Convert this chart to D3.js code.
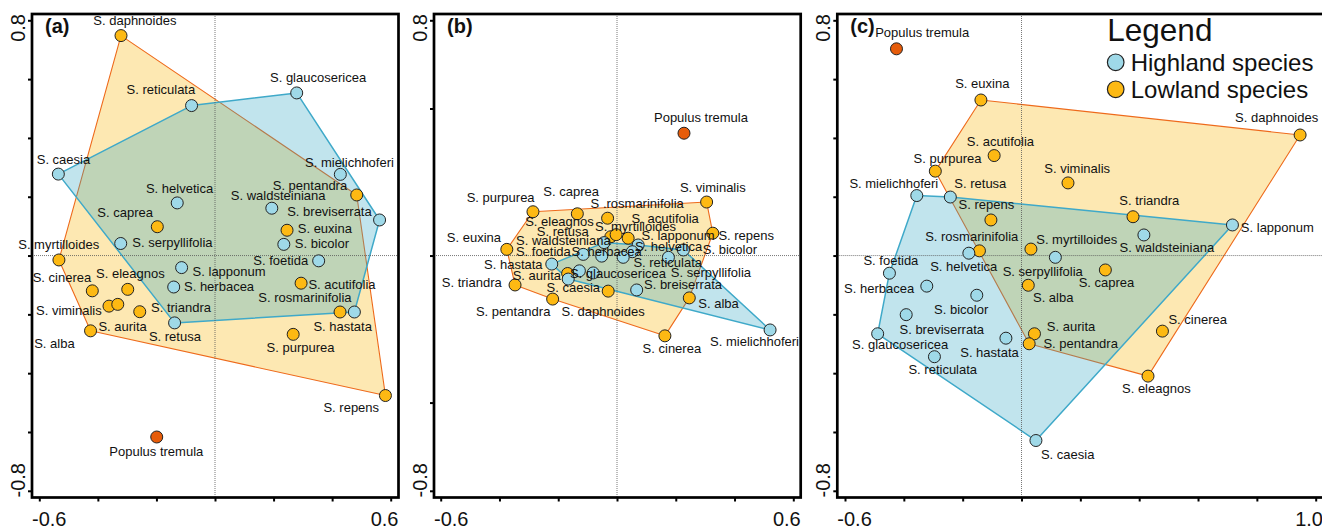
<!DOCTYPE html>
<html><head><meta charset="utf-8">
<script src="https://cdn.jsdelivr.net/npm/d3@7"></script>
<style>
body{margin:0;background:#fff}
text{font-family:"Liberation Sans",Arial,sans-serif;fill:#111}
</style>
</head><body>
<svg id="chart" width="1322" height="529"></svg>
<script>
// ---------------- DATA ----------------
// Panel (a)
const namesA = ["S. daphnoides","S. reticulata","S. glaucosericea","S. caesia","S. mielichhoferi","S. pentandra","S. helvetica","S. waldsteiniana","S. breviserrata","S. caprea","S. euxina","S. serpyllifolia","S. bicolor","S. myrtilloides","S. foetida","S. lapponum","S. herbacea","S. acutifolia","S. cinerea","S. eleagnos","S. viminalis","S. aurita","S. triandra","S. alba","S. rosmarinifolia","S. hastata","S. retusa","S. purpurea","S. repens","Populus tremula"];
const xA = [-0.321,-0.080,0.279,-0.535,0.428,0.484,-0.129,0.194,0.562,-0.197,0.246,-0.322,0.235,-0.533,0.354,-0.114,-0.141,0.294,-0.419,-0.298,-0.362,-0.332,-0.257,-0.425,0.427,0.476,-0.138,0.267,0.582,-0.199];
const yA = [0.748,0.510,0.553,0.277,0.276,0.206,0.179,0.161,0.121,0.098,0.086,0.041,0.038,-0.015,-0.018,-0.041,-0.107,-0.094,-0.120,-0.115,-0.172,-0.166,-0.191,-0.256,-0.192,-0.192,-0.229,-0.268,-0.476,-0.617];
const groupA = ["L","H","H","H","H","L","H","H","H","L","L","H","H","L","H","H","H","L","L","L","L","L","L","L","L","H","H","L","L","P"];

// Panel (b)
const namesB = ["Populus tremula","S. viminalis","S. purpurea","S. caprea","S .rosmarinifolia","S. eleagnos","S. myrtilloides","S. acutifolia","S. repens","S. euxina","S. triandra","S. pentandra","S. daphnoides","S. cinerea","S. alba","S. aurita","S. retusa","S. waldsteiniana","S. lapponum","S. helvetica","S. foetida","S. herbacea","S. reticulata","S. hastata","S. glaucosericea","S. caesia","S. breiserrata","S. serpyllifolia","S. bicolor","S. mielichhoferi"];
const xB = [0.228,0.305,-0.286,-0.135,-0.032,-0.021,-0.003,0.038,0.326,-0.375,-0.347,-0.219,-0.030,0.163,0.246,-0.168,-0.044,-0.052,0.072,0.052,-0.115,0.021,-0.128,-0.222,-0.081,-0.166,0.067,0.175,0.226,0.521];
const yB = [0.416,0.182,0.149,0.142,0.127,0.064,0.071,0.059,0.076,0.021,-0.100,-0.148,-0.121,-0.273,-0.144,-0.061,0.044,-0.002,0.036,0.013,0.004,-0.006,-0.052,-0.029,-0.059,-0.080,-0.117,-0.006,0.019,-0.253];
const groupB = ["P","L","L","L","L","L","L","L","L","L","L","L","L","L","L","L","H","H","H","H","H","H","H","H","H","H","H","H","H","H"];

// Panel (c)
const namesC = ["Populus tremula","S. euxina","S. daphnoides","S. acutifolia","S. purpurea","S. viminalis","S. mielichhoferi","S. retusa","S. repens","S. triandra","S. lapponum","S. waldsteiniana","S. helvetica","S. rosmarinifolia","S. myrtilloides","S. serpyllifolia","S. foetida","S. caprea","S. alba","S. herbacea","S. bicolor","S. breviserrata","S. glaucosericea","S. hastata","S. reticulata","S. aurita","S. pentandra","S. cinerea","S. eleagnos","S. caesia"];
const xC = [-0.425,-0.138,0.947,-0.093,-0.293,0.158,-0.356,-0.242,-0.104,0.379,0.717,0.416,-0.179,-0.143,0.032,0.115,-0.449,0.285,0.023,-0.322,-0.152,-0.392,-0.489,-0.053,-0.296,0.044,0.026,0.479,0.430,0.049];
const yC = [0.703,0.529,0.410,0.340,0.287,0.247,0.204,0.199,0.121,0.132,0.104,0.070,0.008,0.016,0.022,-0.006,-0.060,-0.049,-0.101,-0.104,-0.135,-0.201,-0.266,-0.281,-0.344,-0.266,-0.300,-0.257,-0.410,-0.629];
const groupC = ["P","L","L","L","L","L","H","H","L","L","H","H","H","L","L","H","H","L","L","H","H","H","H","H","H","L","L","L","L","H"];

// Axis ticks and tick labels
const xTicksAB = [-0.6,-0.4,-0.2,0,0.2,0.4,0.6];
const xTicksC = [-0.6,-0.4,-0.2,0,0.2,0.4,0.6,0.8,1.0];
const yTicksAC = [0.8,0.6,0.4,0.2,0,-0.2,-0.4,-0.6,-0.8];
const yTicksB = [0.8,0.5,0,-0.5,-0.8];
const xTickLabelsAB = ["-0.6","0.6"];
const xTickLabelsC = ["-0.6","1.0"];
const yTickLabels = ["0.8","-0.8"];
const panelTitles = ["(a)","(b)","(c)"];
const legendTitle = "Legend";
const legendLabels = ["Highland species","Lowland species"];
const legendGroups = ["H","L"];

// ---------------- LAYOUT / STYLE ----------------
// label offsets (pixels, from point centre to text start/baseline)
const labelOffA = [[-27.7,-10.4],[-65,-11.4],[-26.7,-11.3],[-21.6,-10],[-35.3,-7.6],[-84,-5],[-31.3,-9.7],[-41,-8.3],[-92.4,-4],[-60,-9.4],[10.7,3],[11.6,3.4],[11,4],[-40.7,-10.7],[-65.4,4.3],[11,8],[10.3,4],[7.3,6.3],[-59.6,-9],[-31.7,-11],[-73,9],[-19.4,26.7],[11.3,0.6],[-56.4,17.6],[-81.7,-9.7],[-41,18.7],[-25.7,18],[-26.6,17.4],[-62,16.4],[-47.4,18.7]];
const labelOffB = [[-30,-11.6],[-26.7,-9.7],[-66.3,-9.7],[-34,-17.3],[-17,-10],[-85.7,-10.7],[-21,-3.7],[3.4,-15.6],[5.6,6.7],[-60,-7.6],[-73.3,1.7],[-76.7,16.7],[-46.6,24.7],[-22.3,17.6],[9,10],[-55,6.7],[-67.3,-6.7],[-85.7,-11],[3.4,-5],[2.7,-0.7],[-67.3,1.7],[-51.6,-1.3],[54,-4],[-67.7,4.7],[-23.3,5.6],[-21.6,12.7],[7.3,-0.7],[2.4,19.4],[19.4,4.3],[-60,15.7]];
const labelOffC = [[-21.3,-11.4],[-25.7,-11.7],[-65,-13.3],[-27.3,-10],[-21.7,-8.6],[-23.7,-10.3],[-67.4,-8],[4,-9.3],[-32.4,-10.7],[-13.7,-11.7],[8.4,6.7],[-24.4,16.7],[-38.7,17.7],[-54.3,-10],[5.3,-5],[-52.7,18.3],[-26,-8.3],[-26.7,17],[4.7,16.6],[-82.7,6.6],[-42.7,18.6],[-6.7,19],[-25.6,15],[-45.7,19],[-26,17.7],[12.4,-2.6],[14.3,4.7],[6,-6.7],[-26,17.3],[5,18.3]];

const fillColor = {H:"#9fd9e8", L:"#fdb913", P:"#e65c0a"};
const hullFill = {L:"rgb(253,232,178)", H:"rgba(50,165,195,0.30)"};
const hullStroke = {L:"#ee6a1c", H:"#3fa9c9"};
const hullWidth = {L:1.1, H:1.5};

const panels = [
  {title:panelTitles[0], names:namesA, xs:xA, ys:yA, groups:groupA, offs:labelOffA,
   frame:{l:32,r:398.5,t:14,b:497.5}, xDomain:[-0.6,0.6], xRange:[39.3,390.7],
   xTicks:xTicksAB, yTicks:yTicksAC, xLabels:xTickLabelsAB},
  {title:panelTitles[1], names:namesB, xs:xB, ys:yB, groups:groupB, offs:labelOffB,
   frame:{l:434,r:800.7,t:14,b:497.5}, xDomain:[-0.6,0.6], xRange:[440.7,793.3],
   xTicks:xTicksAB, yTicks:yTicksB, xLabels:xTickLabelsAB},
  {title:panelTitles[2], names:namesC, xs:xC, ys:yC, groups:groupC, offs:labelOffC,
   frame:{l:837.3,r:1324,t:14,b:497.5}, xDomain:[-0.6,1.0], xRange:[845,1315.7],
   xTicks:xTicksC, yTicks:yTicksAC, xLabels:xTickLabelsC, legend:true}
];

const svg = d3.select("#chart");
const y = d3.scaleLinear().domain([-0.8,0.8]).range([490.8,20.3]);

panels.forEach((p,pi)=>{
  const g = svg.append("g");
  const f = p.frame;
  const x = d3.scaleLinear().domain(p.xDomain).range(p.xRange);
  const pts = p.names.map((n,i)=>({name:n,x:p.xs[i],y:p.ys[i],g:p.groups[i],off:p.offs[i]}));

  const clipId = "clip"+pi;
  svg.append("clipPath").attr("id",clipId).append("rect")
    .attr("x",f.l).attr("y",f.t).attr("width",f.r-f.l).attr("height",f.b-f.t);
  const inner = g.append("g").attr("clip-path",`url(#${clipId})`);

  // hulls
  ["L","H"].forEach(grp=>{
    const hull = d3.polygonHull(pts.filter(d=>d.g===grp).map(d=>[x(d.x),y(d.y)]));
    inner.append("path").attr("d","M"+hull.map(q=>q.join(",")).join("L")+"Z")
      .attr("fill",hullFill[grp]).attr("stroke",hullStroke[grp])
      .attr("stroke-width",hullWidth[grp]).attr("stroke-linejoin","round");
  });

  // zero lines
  inner.append("line").attr("x1",x(0)).attr("x2",x(0)).attr("y1",f.t).attr("y2",f.b)
    .attr("stroke","#555").attr("stroke-width",0.8).attr("stroke-dasharray","1,1");
  inner.append("line").attr("x1",f.l).attr("x2",f.r).attr("y1",y(0)).attr("y2",y(0))
    .attr("stroke","#555").attr("stroke-width",0.8).attr("stroke-dasharray","1,1");

  // points
  const order = {L:0,H:1,P:2};
  inner.selectAll("circle.pt").data(pts.slice().sort((a,b)=>order[a.g]-order[b.g]))
    .join("circle").attr("class","pt")
    .attr("cx",d=>x(d.x)).attr("cy",d=>y(d.y)).attr("r",6)
    .attr("fill",d=>fillColor[d.g]).attr("stroke","#222").attr("stroke-width",1);

  // labels
  g.selectAll("text.lab").data(pts).join("text").attr("class","lab")
    .attr("x",d=>x(d.x)+d.off[0]).attr("y",d=>y(d.y)+d.off[1])
    .attr("font-size",13).text(d=>d.name);

  // panel title
  g.append("text").attr("x",f.l+13).attr("y",33.3).attr("font-size",20)
    .attr("font-weight","bold").text(p.title);

  // axes (ticks only)
  const yAxis = d3.axisLeft(y).tickValues(p.yTicks).tickSize(4).tickFormat("");
  const ya = g.append("g").attr("transform",`translate(${f.l},0)`).call(yAxis);
  const xAxis = d3.axisBottom(x).tickValues(p.xTicks).tickSize(4).tickFormat("");
  const xa = g.append("g").attr("transform",`translate(0,${f.b})`).call(xAxis);
  [ya,xa].forEach(a=>{a.select(".domain").remove();a.selectAll("line").attr("stroke","#000").attr("stroke-width",2);});

  // frame
  g.append("rect").attr("x",f.l).attr("y",f.t).attr("width",f.r-f.l).attr("height",f.b-f.t)
    .attr("fill","none").attr("stroke","#000").attr("stroke-width",2.7);

  // axis labels
  g.append("text").attr("x",f.l).attr("y",526).attr("font-size",20).attr("text-anchor","start").text(p.xLabels[0]);
  g.append("text").attr("x",Math.min(f.r,1323)).attr("y",526).attr("font-size",20).attr("text-anchor","end").text(p.xLabels[1]);
  g.append("text").attr("transform",`translate(${f.l-7},${f.t}) rotate(-90)`).attr("font-size",20)
    .attr("text-anchor","end").text(yTickLabels[0]);
  g.append("text").attr("transform",`translate(${f.l-7},${f.b}) rotate(-90)`).attr("font-size",20)
    .attr("text-anchor","start").text(yTickLabels[1]);

  if(p.legend){
    const lg = g.append("g");
    lg.append("text").attr("x",1107.3).attr("y",40.7).attr("font-size",31.5).text(legendTitle);
    legendLabels.forEach((t,i)=>{
      lg.append("circle").attr("cx",1115.7).attr("cy",62.3+27*i).attr("r",8.3)
        .attr("fill",fillColor[legendGroups[i]]).attr("stroke","#222").attr("stroke-width",1.2);
      lg.append("text").attr("x",1130.7).attr("y",70.5+27*i).attr("font-size",24).text(t);
    });
  }
});
</script>
</body></html>
